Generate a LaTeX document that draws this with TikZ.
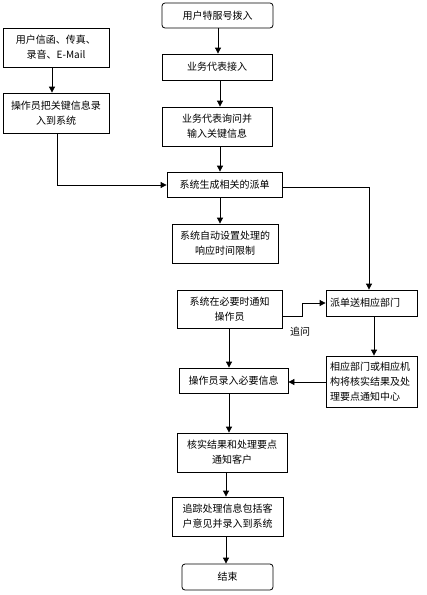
\documentclass[tikz,border=0pt]{standalone}
\usepackage{fontspec}
\newfontfamily\cjk{Noto Sans CJK SC}
\usetikzlibrary{arrows.meta}
\begin{document}
\begin{tikzpicture}[x=1pt,y=-1pt,
  box/.style={draw=black,line width=0.8pt,inner sep=2pt,align=center,font=\cjk\fontsize{10}{15}\selectfont},
  rbox/.style={box,rounded corners=3pt},
  arr/.style={draw=black,line width=0.8pt,-{Triangle[length=6pt,width=6pt]}},
  ln/.style={draw=black,line width=0.8pt}]
\useasboundingbox[fill=white] (0,0) rectangle (427,595);
\node[rbox,minimum width=111pt,minimum height=25pt] (start) at (217.5,15.5) {用户特服号拨入};
\node[box,minimum width=106pt,minimum height=39pt] (l1) at (56,47.5) {用户信函、传真、\\录音、E-Mail};
\node[box,minimum width=106pt,minimum height=40pt] (l2) at (56,113) {操作员把关键信息录\\入到系统};
\node[box,minimum width=110pt,minimum height=26pt] (b1) at (217,67) {业务代表接入};
\node[box,minimum width=110pt,minimum height=39pt] (b2) at (217,126.5) {业务代表询问并\\输入关键信息};
\node[box,minimum width=115pt,minimum height=25pt] (b3) at (224.5,184.5) {系统生成相关的派单};
\node[box,minimum width=106pt,minimum height=39pt] (b4) at (225,243.5) {系统自动设置处理的\\响应时间限制};
\node[box,minimum width=91pt,minimum height=26pt,text width=83pt,align=left] (r1) at (371.5,303) {派单送相应部门};
\node[box,minimum width=105pt,minimum height=38pt] (m1) at (229.5,309) {系统在必要时通知\\操作员};
\node[box,minimum width=91pt,minimum height=51pt,text width=83pt,align=left] (r2) at (371.5,381.5) {相应部门或相应机\\构将核实结果及处\\理要点通知中心};
\node[box,minimum width=109pt,minimum height=25pt] (m2) at (233.5,380.5) {操作员录入必要信息};
\node[box,minimum width=110pt,minimum height=39pt] (m3) at (232,452.5) {核实结果和处理要点\\通知客户};
\node[box,minimum width=111pt,minimum height=39pt] (m4) at (227.5,516.5) {追踪处理信息包括客\\户意见并录入到系统};
\node[rbox,minimum width=91pt,minimum height=26pt] (end) at (227.5,577) {结束};
\node[font=\cjk\fontsize{10}{12}\selectfont] (lbl) at (300,332) {追问};
\coordinate (c1) at (57,185);
\coordinate (c2) at (369,187);
\coordinate (c3) at (302,316);
\coordinate (c4) at (302,303);
\draw[arr] (start.south -| 218,0) -- (b1.north -| 218,0);
\draw[arr] (l1.south -| 52,0) -- (l2.north -| 52,0);
\draw[arr] (b1.south -| 220,0) -- (b2.north -| 220,0);
\draw[arr] (b2.south -| 220,0) -- (b3.north -| 220,0);
\draw[arr] (l2.south -| c1) -- (c1) -- (c1 -| b3.west);
\draw[arr] (b3.south -| 220,0) -- (b4.north -| 220,0);
\draw[arr] (c2 -| b3.east) -- (c2) -- (c2 |- r1.north);
\draw[arr] (c3 -| m1.east) -- (c3) -- (c4) -- (c4 -| r1.west);
\draw[arr] (m1.south -| 229,0) -- (m2.north -| 229,0);
\draw[arr] (r1.south -| 374,0) -- (r2.north -| 374,0);
\draw[arr] (r2.west |- 0,382) -- (m2.east |- 0,382);
\draw[arr] (m2.south -| 229,0) -- (m3.north -| 229,0);
\draw[arr] (m3.south -| 226,0) -- (m4.north -| 226,0);
\draw[arr] (m4.south -| 226,0) -- (end.north -| 226,0);
\end{tikzpicture}
\end{document}
